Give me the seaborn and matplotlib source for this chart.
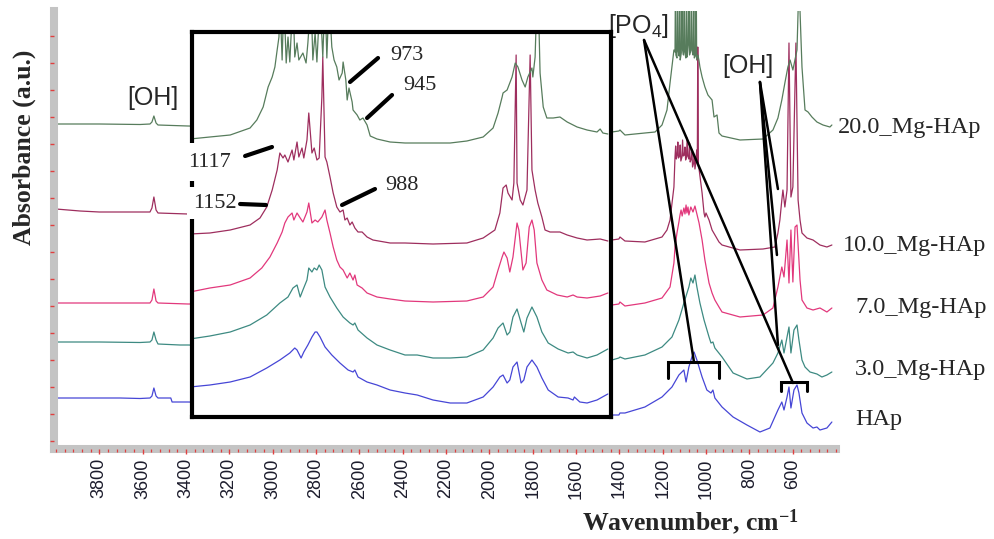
import matplotlib
matplotlib.use("Agg")
import matplotlib.pyplot as plt
import seaborn as sns
from matplotlib.ticker import FixedLocator, MultipleLocator

# ---------------- data (main spectra, wavenumber cm-1 / absorbance a.u.) ----------------
hap_wn = [4000, 3889, 3704, 3612, 3566, 3557, 3548, 3538, 3529, 3497, 3470, 3464, 3428, 3391, 3000, 2000, 1500,
          1434, 1402, 1397, 1374, 1282, 1203, 1157, 1125, 1102, 1092, 1079, 1065, 1055, 1042, 1018, 996, 977, 968,
          959, 926, 875, 811, 751, 705, 668, 650, 640, 626, 617, 608, 594, 580, 571, 557, 534, 506, 488, 474, 442, 419]
hap_ab = [0.43, 0.43, 0.43, 0.425, 0.43, 0.45, 0.53, 0.45, 0.43, 0.43, 0.43, 0.39, 0.39, 0.39, 0.37, 0.33, 0.27,
          0.26, 0.26, 0.28, 0.28, 0.34, 0.44, 0.54, 0.66, 0.71, 0.59, 0.74, 0.84, 0.89, 0.81, 0.64, 0.51, 0.48, 0.51,
          0.43, 0.34, 0.24, 0.16, 0.09, 0.13, 0.31, 0.39, 0.31, 0.44, 0.54, 0.33, 0.51, 0.56, 0.48, 0.28, 0.18, 0.13,
          0.14, 0.11, 0.13, 0.19]

mg3_wn = [4000, 3800, 3612, 3566, 3557, 3548, 3538, 3529, 3428, 3391, 3000, 2000, 1500, 1434, 1402, 1397, 1374,
          1282, 1203, 1157, 1125, 1102, 1079, 1070, 1060, 1051, 1042, 1028, 1009, 986, 977, 968, 959, 926, 875, 811,
          751, 691, 668, 650, 640, 626, 617, 608, 594, 580, 571, 557, 543, 520, 488, 465, 442, 419]
mg3_ab = [0.99, 0.99, 0.985, 0.99, 1.01, 1.09, 1.01, 0.97, 0.96, 0.96, 0.94, 0.89, 0.83, 0.81, 0.83, 0.84, 0.82,
          0.86, 0.94, 1.04, 1.21, 1.38, 1.54, 1.63, 1.58, 1.66, 1.54, 1.38, 1.21, 1.04, 0.98, 0.99, 0.93, 0.84, 0.68,
          0.62, 0.64, 0.78, 0.88, 1.01, 0.88, 1.04, 1.14, 0.88, 1.11, 1.16, 1.01, 0.81, 0.74, 0.69, 0.67, 0.64, 0.66,
          0.69]

mg7_wn = [4000, 3800, 3612, 3566, 3557, 3548, 3538, 3529, 3391, 3000, 2000, 1500, 1434, 1402, 1397, 1374, 1282,
          1203, 1166, 1148, 1143, 1134, 1125, 1120, 1115, 1110, 1102, 1097, 1092, 1088, 1083, 1079, 1070, 1060, 1051,
          1042, 1032, 1018, 1005, 986, 972, 959, 940, 926, 843, 737, 691, 668, 650, 640, 626, 617, 608, 599, 589, 580,
          566, 557, 534, 506, 474, 442, 419]
mg7_ab = [1.38, 1.38, 1.38, 1.38, 1.41, 1.52, 1.40, 1.38, 1.37, 1.37, 1.36, 1.36, 1.36, 1.37, 1.39, 1.35, 1.38,
          1.43, 1.54, 1.78, 1.94, 2.08, 2.19, 2.26, 2.31, 2.25, 2.33, 2.27, 2.36, 2.28, 2.34, 2.26, 2.34, 2.29, 2.35,
          2.27, 2.18, 2.01, 1.81, 1.58, 1.48, 1.41, 1.34, 1.29, 1.24, 1.26, 1.33, 1.54, 1.74, 1.64, 2.01, 1.58, 2.11,
          1.59, 2.14, 2.16, 1.61, 1.41, 1.33, 1.31, 1.33, 1.29, 1.33]

mg10_wn = [4000, 3889, 3800, 3612, 3566, 3557, 3548, 3538, 3529, 3391, 3000, 2000, 1500, 1434, 1402, 1397, 1374,
           1282, 1203, 1180, 1166, 1148, 1143, 1140, 1137, 1133, 1130, 1127, 1122, 1119, 1116, 1111, 1108, 1105, 1100,
           1097, 1094, 1090, 1087, 1084, 1079, 1076, 1073, 1068, 1065, 1062, 1057, 1054, 1051, 1046, 1043, 1040, 1038,
           1035, 1032, 1018, 1009, 1005, 1000, 986, 972, 940, 926, 843, 737, 682, 668, 659, 650, 645, 636, 626, 617,
           608, 599, 585, 575, 566, 557, 534, 506, 474, 442, 419]
mg10_ab = [2.32, 2.30, 2.29, 2.29, 2.29, 2.33, 2.44, 2.31, 2.28, 2.27, 2.21, 2.09, 2.02, 2.01, 2.02, 2.04, 2.00,
           1.99, 2.04, 2.11, 2.21, 2.54, 2.84, 2.95, 2.82, 2.86, 2.99, 2.83, 2.85, 2.96, 2.80, 2.84, 3.01, 2.85, 2.86,
           2.94, 2.81, 2.84, 3.03, 2.85, 2.82, 2.98, 2.79, 2.82, 2.89, 2.74, 2.78, 2.86, 2.72, 2.80, 2.91, 2.78, 3.94,
           2.74, 2.72, 2.48, 2.28, 2.24, 2.28, 2.21, 2.11, 1.99, 1.96, 1.91, 1.92, 1.94, 2.08, 2.21, 2.41, 2.51, 2.34,
           2.51, 3.98, 2.44, 2.54, 3.98, 2.41, 2.21, 2.08, 2.03, 2.01, 1.96, 1.94, 1.96]

mg20_wn = [4000, 3800, 3612, 3566, 3557, 3548, 3538, 3529, 3391, 3000, 2000, 1500, 1434, 1402, 1397, 1374, 1282,
           1235, 1203, 1180, 1166, 1148, 1143, 1141, 1139, 1134, 1131, 1129, 1124, 1121, 1119, 1114, 1111, 1109, 1104,
           1100, 1098, 1093, 1089, 1087, 1082, 1078, 1076, 1071, 1067, 1065, 1060, 1056, 1054, 1049, 1045, 1043, 1037,
           1032, 1028, 1018, 1005, 991, 972, 963, 949, 940, 926, 843, 737, 691, 668, 650, 636, 622, 612, 599, 580, 571,
           557, 543, 529, 511, 488, 460, 428, 419]
mg20_ab = [3.17, 3.17, 3.165, 3.17, 3.19, 3.25, 3.18, 3.16, 3.15, 3.13, 3.11, 3.09, 3.09, 3.10, 3.11, 3.06, 3.08,
           3.09, 3.16, 3.31, 3.58, 3.91, 3.89, 4.6, 3.86, 3.83, 4.6, 3.91, 3.85, 4.6, 3.81, 3.88, 4.6, 3.93, 3.86,
           4.6, 3.89, 3.83, 4.6, 3.84, 3.96, 4.6, 3.86, 3.90, 4.6, 3.91, 3.86, 4.6, 3.83, 3.85, 4.6, 3.81, 3.86,
           3.80, 3.74, 3.64, 3.54, 3.46, 3.41, 3.24, 3.26, 3.08, 3.05, 3.01, 3.02, 3.11, 3.23, 3.41, 3.58, 3.74, 3.81,
           3.71, 3.91, 4.6, 3.74, 3.31, 3.29, 3.24, 3.19, 3.16, 3.14, 3.16]

# ---------------- data (inset, expanded 1330-400 cm-1 region) ----------------
in0_wn = [1336, 1292, 1247, 1203, 1166, 1137, 1115, 1104, 1099, 1090, 1084, 1075, 1066, 1059, 1055, 1048, 1037,
          1022, 1004, 986, 975, 971, 964, 944, 922, 893, 860, 833, 798, 760, 723, 687, 665, 650, 643, 634, 628, 621,
          612, 603, 597, 590, 579, 568, 557, 543, 521, 499, 488, 485, 473, 457, 435, 411]
in0_ab = [0.30, 0.32, 0.35, 0.40, 0.49, 0.57, 0.64, 0.69, 0.67, 0.59, 0.65, 0.72, 0.80, 0.85, 0.85, 0.80, 0.70,
          0.62, 0.54, 0.47, 0.45, 0.47, 0.40, 0.35, 0.32, 0.27, 0.24, 0.22, 0.17, 0.14, 0.14, 0.20, 0.30, 0.40, 0.42,
          0.34, 0.37, 0.50, 0.55, 0.34, 0.37, 0.50, 0.57, 0.50, 0.39, 0.27, 0.20, 0.19, 0.17, 0.20, 0.15, 0.14, 0.17,
          0.23]

in3_wn = [1336, 1292, 1247, 1203, 1166, 1137, 1119, 1108, 1099, 1092, 1086, 1077, 1073, 1066, 1061, 1055, 1050,
          1044, 1037, 1026, 1011, 997, 982, 975, 971, 964, 944, 922, 893, 860, 833, 798, 760, 723, 687, 665, 654, 643,
          634, 628, 621, 612, 603, 597, 590, 579, 568, 557, 543, 521, 499, 488, 479, 457, 435, 411]
in3_ab = [0.78, 0.81, 0.85, 0.92, 1.02, 1.14, 1.20, 1.29, 1.32, 1.20, 1.27, 1.37, 1.49, 1.45, 1.49, 1.47, 1.52,
          1.47, 1.30, 1.20, 1.09, 1.00, 0.94, 0.92, 0.94, 0.87, 0.79, 0.72, 0.67, 0.62, 0.62, 0.59, 0.59, 0.60, 0.67,
          0.79, 0.89, 0.94, 0.82, 0.85, 1.00, 1.08, 0.94, 0.85, 0.99, 1.10, 1.00, 0.85, 0.74, 0.68, 0.64, 0.65, 0.62,
          0.59, 0.62, 0.68]

in7_wn = [1336, 1292, 1247, 1203, 1177, 1159, 1143, 1132, 1126, 1119, 1110, 1106, 1099, 1092, 1086, 1077, 1073,
          1066, 1059, 1053, 1044, 1037, 1033, 1026, 1019, 1011, 1004, 997, 988, 982, 975, 971, 966, 955, 944, 922, 893,
          860, 798, 723, 687, 665, 654, 645, 641, 634, 628, 621, 612, 608, 599, 592, 585, 579, 574, 568, 557, 546, 523,
          501, 488, 479, 457, 428, 411]
in7_ab = [1.25, 1.29, 1.32, 1.39, 1.49, 1.60, 1.74, 1.85, 1.94, 2.00, 2.04, 1.97, 2.04, 1.99, 1.95, 2.05, 2.14,
          1.94, 1.97, 1.95, 2.00, 2.07, 1.97, 1.84, 1.70, 1.57, 1.50, 1.47, 1.39, 1.44, 1.37, 1.42, 1.32, 1.29, 1.24,
          1.20, 1.18, 1.16, 1.15, 1.16, 1.20, 1.30, 1.47, 1.60, 1.65, 1.59, 1.45, 1.60, 1.94, 1.87, 1.47, 1.54, 1.90,
          1.97, 1.87, 1.54, 1.37, 1.27, 1.22, 1.20, 1.22, 1.20, 1.19, 1.21, 1.24]

in10_wn = [1336, 1292, 1247, 1203, 1181, 1166, 1154, 1143, 1137, 1130, 1126, 1119, 1110, 1106, 1099, 1095, 1088,
           1084, 1077, 1073, 1066, 1061, 1055, 1050, 1044, 1042, 1037, 1033, 1026, 1019, 1011, 1004, 997, 993, 988,
           982, 977, 971, 964, 955, 944, 931, 893, 860, 798, 723, 687, 661, 650, 643, 636, 632, 623, 619, 614, 612,
           605, 599, 590, 583, 579, 572, 566, 557, 550, 539, 517, 501, 479, 457, 428, 411]
in10_ab = [1.83, 1.84, 1.87, 1.92, 1.99, 2.10, 2.27, 2.47, 2.64, 2.59, 2.62, 2.55, 2.67, 2.57, 2.75, 2.60, 2.69,
           2.59, 2.77, 3.04, 2.64, 2.69, 2.57, 2.59, 3.20, 3.60, 2.60, 2.55, 2.40, 2.24, 2.10, 2.05, 2.07, 1.97, 1.99,
           1.92, 1.95, 1.89, 1.85, 1.85, 1.80, 1.77, 1.74, 1.74, 1.73, 1.74, 1.79, 1.87, 2.04, 2.29, 2.32, 2.24, 2.17,
           2.34, 3.62, 2.34, 2.17, 2.12, 2.27, 3.62, 2.47, 2.27, 2.14, 2.00, 1.87, 1.85, 1.85, 1.82, 1.79, 1.77, 1.78,
           1.76]

in20_wn = [1336, 1292, 1247, 1203, 1188, 1174, 1163, 1154, 1148, 1143, 1139, 1137, 1132, 1128, 1123, 1119, 1115,
           1108, 1104, 1099, 1095, 1086, 1079, 1075, 1068, 1064, 1059, 1055, 1048, 1042, 1037, 1033, 1028, 1022, 1017,
           1011, 1006, 999, 997, 991, 988, 984, 977, 975, 966, 960, 953, 944, 937, 922, 893, 860, 833, 798, 760, 723,
           687, 665, 654, 645, 643, 634, 623, 616, 610, 601, 594, 588, 579, 577, 572, 568, 565, 561, 554, 546, 532, 517,
           501, 479, 457, 435, 428, 422, 411]
in20_ab = [2.78, 2.80, 2.82, 2.89, 2.97, 3.10, 3.30, 3.40, 3.50, 3.67, 3.80, 4.2, 3.57, 4.2, 3.54, 3.80, 3.55, 4.2,
           3.60, 3.74, 3.57, 3.64, 3.54, 3.74, 4.2, 3.57, 3.84, 3.55, 4.2, 3.60, 4.2, 3.59, 4.2, 3.70, 3.57, 3.50, 3.37,
           3.44, 3.55, 3.37, 3.17, 3.29, 3.15, 3.07, 3.02, 2.97, 2.99, 2.92, 2.81, 2.78, 2.75, 2.74, 2.74, 2.74, 2.74,
           2.76, 2.80, 2.89, 3.04, 3.20, 3.24, 3.27, 3.40, 3.54, 3.50, 3.37, 3.30, 3.40, 3.49, 3.40, 3.60, 4.2, 4.2,
           3.44, 3.10, 2.99, 2.99, 3.00, 2.95, 2.90, 2.87, 2.85, 2.88, 2.84, 2.83]

series_names = ["HAp", "3.0_Mg-HAp", "7.0_Mg-HAp", "10.0_Mg-HAp", "20.0_Mg-HAp"]
series_colors = ["#4646d6", "#3d8a82", "#e2387c", "#9e2e5e", "#577c5c"]
main_data = [(hap_wn, hap_ab), (mg3_wn, mg3_ab), (mg7_wn, mg7_ab), (mg10_wn, mg10_ab), (mg20_wn, mg20_ab)]
inset_data = [(in0_wn, in0_ab), (in3_wn, in3_ab), (in7_wn, in7_ab), (in10_wn, in10_ab), (in20_wn, in20_ab)]

xtick_values = [3800, 3600, 3400, 3200, 3000, 2800, 2600, 2400, 2200, 2000, 1800, 1600, 1400, 1200, 1000, 800, 600]
xtick_labels = [str(v) for v in xtick_values]

# ---------------- style ----------------
sns.set_style("white")
plt.rcParams["font.family"] = ["Liberation Serif", "DejaVu Serif"]
plt.rcParams["mathtext.default"] = "regular"

W, H = 995, 539
fig = plt.figure(figsize=(W / 100, H / 100), dpi=100)


def fx(px):
    return px / W


def fy(py):
    return 1 - py / H


# ---------------- main axes ----------------
ax = fig.add_axes([fx(54), fy(449), fx(836) - fx(54), fy(11) - fy(449)])
for (wn, ab), col in zip(main_data, series_colors):
    sns.lineplot(x=wn, y=ab, ax=ax, color=col, linewidth=0.9, sort=False, estimator=None, legend=False)
ax.set_xlim(4009, 400)
ax.set_ylim(-0.08, 4.30)
ax.set_xlabel("")
ax.set_ylabel("")

for s in ["top", "right"]:
    ax.spines[s].set_visible(False)
for s in ["left", "bottom"]:
    ax.spines[s].set_color("#c4c4c4")
    ax.spines[s].set_linewidth(5.8)
    ax.spines[s].set_capstyle("projecting")

ax.xaxis.set_major_locator(FixedLocator(xtick_values))
ax.set_xticklabels(xtick_labels)
ax.xaxis.set_minor_locator(MultipleLocator(40))
ax.yaxis.set_major_locator(MultipleLocator(0.27))
tick_red = "#e04040"
ax.tick_params(axis="x", which="both", bottom=True, top=False)
ax.tick_params(axis="y", which="both", left=True, right=False)
ax.tick_params(axis="x", which="major", direction="out", length=3.6, width=1.0, color=tick_red,
               pad=3, labelsize=13, labelrotation=90, labelcolor="#1c1c2c")
ax.tick_params(axis="x", which="minor", direction="out", length=2.2, width=0.9, color=tick_red)
ax.tick_params(axis="y", which="major", direction="out", length=3.0, width=1.0, color=tick_red,
               labelleft=False)
ax.tick_params(axis="y", which="minor", left=False)
for lbl in ax.get_xticklabels():
    lbl.set_fontfamily(["Liberation Sans", "DejaVu Sans"])
ax.xaxis.set_zorder(3)
ax.yaxis.set_zorder(3)

# main annotations
sans = ["Liberation Sans", "DejaVu Sans"]
ax.text(3554, 3.43, "[OH]", fontsize=18, family=sans, ha="center", va="center")
ax.text(806, 3.75, "[OH]", fontsize=18, family=sans, ha="center", va="center")
ax.text(1314, 4.15, "[PO$_4$]", fontsize=18, family=sans, ha="center", va="center", zorder=6)

leader = dict(arrowstyle="-", lw=1.8, color="black", shrinkA=0, shrinkB=0)
for tgt in [(1055.5, 0.79), (598.6, 0.58)]:
    ax.annotate("", xy=tgt, xytext=(1286, 4.01), arrowprops=leader)
for tgt in [(668, 2.52), (672.5, 1.86), (668, 0.96)]:
    ax.annotate("", xy=tgt, xytext=(751, 3.59), arrowprops=leader)

bracket_po4 = ([1175.5, 1175.5, 940, 940], [0.63, 0.79, 0.79, 0.63])
bracket_oh = ([654, 654, 534, 534], [0.50, 0.59, 0.59, 0.50])
for bx, by in [bracket_po4, bracket_oh]:
    ax.plot(bx, by, color="black", lw=2.2, solid_joinstyle="miter")

# ---------------- inset ----------------
axin = fig.add_axes([fx(192), fy(417), fx(611) - fx(192), fy(32) - fy(417)])
axin.set_facecolor("white")
for (wn, ab), col in zip(inset_data, series_colors):
    sns.lineplot(x=wn, y=ab, ax=axin, color=col, linewidth=0.9, sort=False, estimator=None, legend=False)
axin.set_xlim(1331.5, 404)
axin.set_ylim(0, 3.85)
axin.set_xticks([])
axin.set_yticks([])
axin.set_xlabel("")
axin.set_ylabel("")
for s in axin.spines.values():
    s.set_color("black")
    s.set_linewidth(3.0)
    s.set_visible(True)

lab_kw = dict(fontsize=16, family=["Liberation Serif", "DejaVu Serif"], ha="center", va="center")
axin.text(855.5, 3.62, "973", **lab_kw)
axin.text(826.7, 3.32, "945", **lab_kw)
axin.text(866.6, 2.32, "988", **lab_kw)
axin.text(1291.7, 2.55, "1117", clip_on=False, zorder=5,
          bbox=dict(boxstyle="square,pad=0.42", fc="white", ec="none"), **lab_kw)
axin.text(1280.6, 2.14, "1152", clip_on=False, zorder=5,
          bbox=dict(boxstyle="square,pad=0.28", fc="white", ec="none"), **lab_kw)

ileader = dict(arrowstyle="-", lw=3.0, color="black", shrinkA=0, shrinkB=0)
for a, b in [((981.7, 3.35), (919.7, 3.59)), ((944, 2.99), (888.7, 3.22)), ((999.4, 2.12), (926.4, 2.28)),
             ((1214, 2.61), (1154.4, 2.70)), ((1225, 2.13), (1167.7, 2.12))]:
    axin.annotate("", xy=a, xytext=b, arrowprops=dict(ileader), zorder=6, annotation_clip=False)

# ---------------- labels outside ----------------
label_pos = {"20.0_Mg-HAp": (838, 127), "10.0_Mg-HAp": (843, 245), "7.0_Mg-HAp": (855, 308),
             "3.0_Mg-HAp": (855, 370), "HAp": (855, 420)}
for name in series_names:
    px, py = label_pos[name]
    fig.text(fx(px), fy(py), name, fontsize=17.5, ha="left", va="center")

fig.text(fx(24), fy(147), "Absorbance (a.u.)", rotation=90, fontsize=18.5, fontweight="bold",
         ha="center", va="center")
fig.text(fx(690), fy(522), "Wavenumber, cm$^{-1}$", fontsize=18.5, fontweight="bold", ha="center", va="center")

fig.savefig("out.png", dpi=100, facecolor="white")
